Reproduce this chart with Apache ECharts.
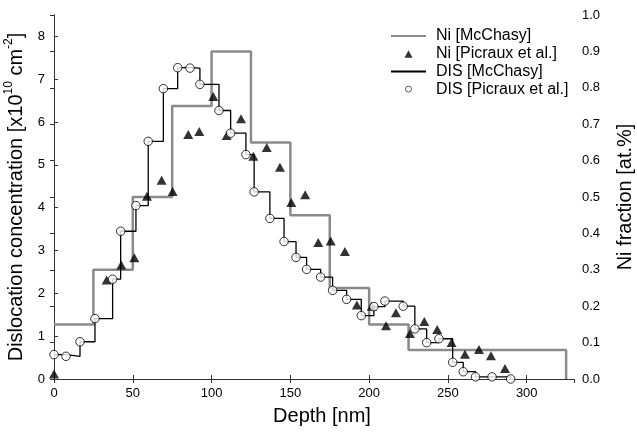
<!DOCTYPE html>
<html><head><meta charset="utf-8">
<script src="https://cdn.jsdelivr.net/npm/echarts@6/dist/echarts.min.js"></script>
<style>html,body{margin:0;padding:0;background:#fff}#c{width:637px;height:445px}</style>
</head><body><div id="c"></div>
<script>
// Ni [McChasy] step profile (Ni fraction, right axis)
const niMcX = [0, 25, 50, 75, 100, 125, 150, 175, 200, 225, 325, 325];
const niMcY = [0.15, 0.30, 0.50, 0.75, 0.90, 0.65, 0.45, 0.25, 0.15, 0.08, 0.08, 0];
// Ni [Picraux et al.] (Ni fraction, right axis)
const niPX = [0, 33.4, 42.7, 51, 59, 68.3, 75.3, 85.2, 92.2, 101.1, 109.6, 118.7, 126.5, 135, 143.4, 150.6, 159.4, 167.7, 175.6, 184.6, 192.2, 201.6, 210.7, 217, 225.9, 235, 243.2, 252.3, 260.8, 269.7, 277.3, 286.2];
const niPY = [0.014, 0.272, 0.313, 0.333, 0.502, 0.546, 0.515, 0.672, 0.680, 0.776, 0.669, 0.715, 0.612, 0.636, 0.582, 0.485, 0.506, 0.375, 0.379, 0.350, 0.203, 0.200, 0.146, 0.182, 0.125, 0.158, 0.136, 0.100, 0.068, 0.081, 0.064, 0.029];
// DIS [McChasy] step profile (dislocation concentration, left axis)
const disMcX = [0, 7.6, 16.5, 26, 37.2, 42.3, 52, 59.8, 69.4, 78.5, 86.3, 92.6, 104.7, 112.1, 121.8, 127, 137, 146, 153.6, 160.3, 169.2, 176.8, 185.7, 195, 203, 210, 221.6, 229, 236.5, 244.3, 253, 259.7, 267.5, 278, 289.8];
const disMcY = [0.57, 0.53, 0.87, 1.41, 2.33, 3.45, 4.05, 5.55, 6.78, 7.27, 7.26, 6.88, 6.27, 5.74, 5.24, 4.37, 3.75, 3.21, 2.84, 2.56, 2.38, 2.07, 1.86, 1.48, 1.69, 1.82, 1.70, 1.17, 0.85, 0.94, 0.39, 0.17, 0.05, 0.05, 0.0];
// DIS [Picraux et al.] (left axis)
const disPX = [0, 7.6, 16.5, 26, 37.2, 42.3, 52, 59.8, 69.4, 78.5, 86.3, 92.6, 104.7, 112.1, 121.8, 127, 137, 146, 153.6, 160.3, 169.2, 176.8, 185.7, 195, 203, 210, 221.6, 229, 236.5, 244.3, 253, 259.7, 267.5, 278, 289.8];
const disPY = [0.57, 0.53, 0.87, 1.41, 2.33, 3.45, 4.05, 5.55, 6.78, 7.27, 7.26, 6.88, 6.27, 5.74, 5.24, 4.37, 3.75, 3.21, 2.84, 2.56, 2.38, 2.07, 1.86, 1.48, 1.69, 1.82, 1.70, 1.17, 0.85, 0.94, 0.39, 0.17, 0.05, 0.05, 0.0];

const zip = (xs, ys) => xs.map((x, i) => [x, ys[i]]);
const FONT = '"Liberation Sans", Arial, sans-serif';
const AX = '#333';

const chart = echarts.init(document.getElementById('c'));
chart.setOption({
  animation: false,
  textStyle: { fontFamily: FONT },
  grid: { left: 54, right: 63, top: 15, bottom: 66, containLabel: false, outerBoundsMode: 'none' },
  legend: {
    orient: 'vertical', left: 385, top: 23,
    itemWidth: 35, itemHeight: 8, itemGap: 1.7,
    textStyle: { fontSize: 16, color: '#000', fontFamily: FONT, padding: [0, 0, 0, 5] },
    data: [
      { name: 'Ni [McChasy]', itemStyle: { opacity: 0 } },
      { name: 'Ni [Picraux et al.]', icon: 'path://M0,0 M35,8 M13.5,8 L17.5,0.5 L21.5,8 Z' },
      { name: 'DIS [McChasy]', itemStyle: { opacity: 0 } },
      { name: 'DIS [Picraux et al.]', icon: 'path://M0,0 M35,8 M14.5,4 A3,3 0 1 1 20.5,4 A3,3 0 1 1 14.5,4 Z',
        itemStyle: { color: '#fff', borderColor: '#000', borderWidth: 0.8 } }
    ]
  },
  xAxis: [{
    type: 'value', min: 0, max: 330, interval: 50,
    name: 'Depth [nm]', nameLocation: 'middle', nameGap: 27,
    nameTextStyle: { fontSize: 20, color: '#000', fontFamily: FONT, padding: [0, 0, 0, 16] },
    axisLine: { lineStyle: { color: AX } },
    axisTick: { inside: true, length: 4, lineStyle: { color: AX } },
    axisLabel: { fontSize: 13, color: '#000', margin: 8, showMaxLabel: false, fontFamily: FONT },
    splitLine: { show: false }
  }, {
    type: 'value', position: 'top', min: 0, max: 330, interval: 50,
    axisLine: { show: true, lineStyle: { color: AX } },
    axisTick: { inside: true, length: 4, lineStyle: { color: AX } },
    axisLabel: { show: false }, splitLine: { show: false }
  }],
  yAxis: [{
    type: 'value', min: 0, max: 8.5, interval: 1, position: 'left',
    name: '{t|Dislocation concentration [x10}{s|10}{t| cm}{s|-2}{t|]}',
    nameLocation: 'middle', nameGap: 19, nameRotate: 90,
    nameTextStyle: {
      rich: {
        t: { fontSize: 20, color: '#000', fontFamily: FONT, verticalAlign: 'bottom', lineHeight: 24 },
        s: { fontSize: 12, color: '#000', fontFamily: FONT, verticalAlign: 'top', lineHeight: 24, padding: [0, 0, 10, 0] }
      }
    },
    axisLine: { show: true, lineStyle: { color: AX } },
    axisTick: { show: true, inside: true, length: 4, lineStyle: { color: AX } },
    axisLabel: { fontSize: 13, color: '#000', margin: 9, showMaxLabel: false, fontFamily: FONT },
    splitLine: { show: false }
  }, {
    type: 'value', min: 0, max: 1, interval: 0.1, position: 'right',
    name: 'Ni fraction [at.%]', nameLocation: 'middle', nameGap: 41, nameRotate: 90,
    nameTextStyle: { fontSize: 20, color: '#000', fontFamily: FONT },
    axisLine: { show: true, lineStyle: { color: AX } },
    axisTick: { show: true, inside: true, length: 4, lineStyle: { color: AX } },
    axisLabel: { fontSize: 13, color: '#000', margin: 8, fontFamily: FONT, formatter: v => v.toFixed(1) },
    splitLine: { show: false }
  }],
  series: [{
    name: 'Ni [McChasy]', type: 'line', step: 'end', yAxisIndex: 1,
    data: zip(niMcX, niMcY), symbol: 'none',
    lineStyle: { color: '#8a8a8a', width: 2.5 }, itemStyle: { color: '#8a8a8a' }, z: 2
  }, {
    name: 'DIS [McChasy]', type: 'line', step: 'end', yAxisIndex: 0,
    data: zip(disMcX, disMcY), symbol: 'none',
    lineStyle: { color: '#000', width: 1.3 }, itemStyle: { color: '#000' }, z: 3
  }, {
    name: 'Ni [Picraux et al.]', type: 'scatter', yAxisIndex: 1,
    data: zip(niPX, niPY), symbol: 'triangle', symbolSize: [10, 9], clip: false,
    itemStyle: { color: '#000' }, z: 4
  }, {
    name: 'DIS [Picraux et al.]', type: 'scatter', yAxisIndex: 0,
    data: zip(disPX, disPY), symbol: 'circle', symbolSize: 8.5, clip: false,
    itemStyle: { color: '#fff', borderColor: '#000', borderWidth: 1 }, z: 5
  }]
});
</script></body></html>
